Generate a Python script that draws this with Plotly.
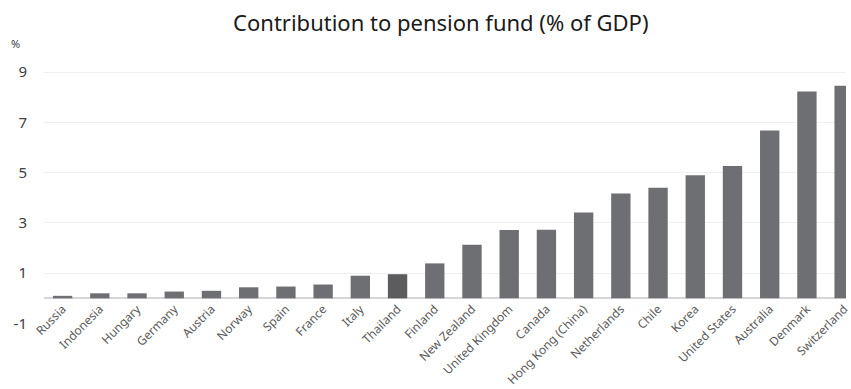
import plotly.graph_objects as go

# Pension fund contributions by country, % of GDP
countries = ["Russia", "Indonesia", "Hungary", "Germany", "Austria", "Norway", "Spain",
             "France", "Italy", "Thailand", "Finland", "New Zealand", "United Kingdom",
             "Canada", "Hong Kong (China)", "Netherlands", "Chile", "Korea",
             "United States", "Australia", "Denmark", "Switzerland"]
contribution = [0.1, 0.2, 0.2, 0.27, 0.3, 0.44, 0.47, 0.55, 0.9, 0.96, 1.39, 2.13, 2.72,
                2.73, 3.41, 4.17, 4.4, 4.9, 5.26, 6.68, 8.23, 8.46]
y_ticks = [-1, 1, 3, 5, 7, 9]
highlight = "Thailand"

bar_colors = ["#5c5c5e" if c == highlight else "#6e6f73" for c in countries]

y_min, y_max = -1.0, 9.4

fig = go.Figure(
    go.Bar(
        x=countries,
        y=contribution,
        marker=dict(color=bar_colors, line=dict(width=0)),
        hoverinfo="x+y",
    )
)

fig.update_layout(
    width=851,
    height=389,
    margin=dict(l=44, r=0, t=62, b=65),
    paper_bgcolor="white",
    plot_bgcolor="white",
    bargap=0.48,
    showlegend=False,
    title=dict(
        text="Contribution to pension fund (% of GDP)",
        x=0.518,
        xanchor="center",
        y=0.94,
        yanchor="middle",
        font=dict(family="Noto Sans", size=22, color="#1a1a1a"),
    ),
    font=dict(family="Noto Sans"),
)

fig.update_xaxes(
    type="category",
    range=[-0.5, 21.05],
    anchor="free",
    position=(0 - y_min) / (y_max - y_min),
    tickangle=-45,
    tickfont=dict(size=12, color="#5a5a5a"),
    showgrid=False,
    showline=False,
    ticks="",
)

fig.update_yaxes(
    range=[y_min - 0.02, y_max],
    tickvals=y_ticks,
    ticktext=[str(v) for v in y_ticks],
    tickfont=dict(size=15, color="#404040"),
    showgrid=True,
    gridcolor="#efefef",
    gridwidth=1,
    zeroline=True,
    zerolinecolor="#d6d6d6",
    zerolinewidth=2,
    showline=False,
    ticks="",
    ticklabelstandoff=16,
)

fig.add_annotation(
    text="%",
    xref="paper", yref="paper",
    x=-0.035, y=1.07,
    xanchor="center", yanchor="middle",
    showarrow=False,
    font=dict(size=11, color="#404040"),
)

fig.write_html("out.html")
